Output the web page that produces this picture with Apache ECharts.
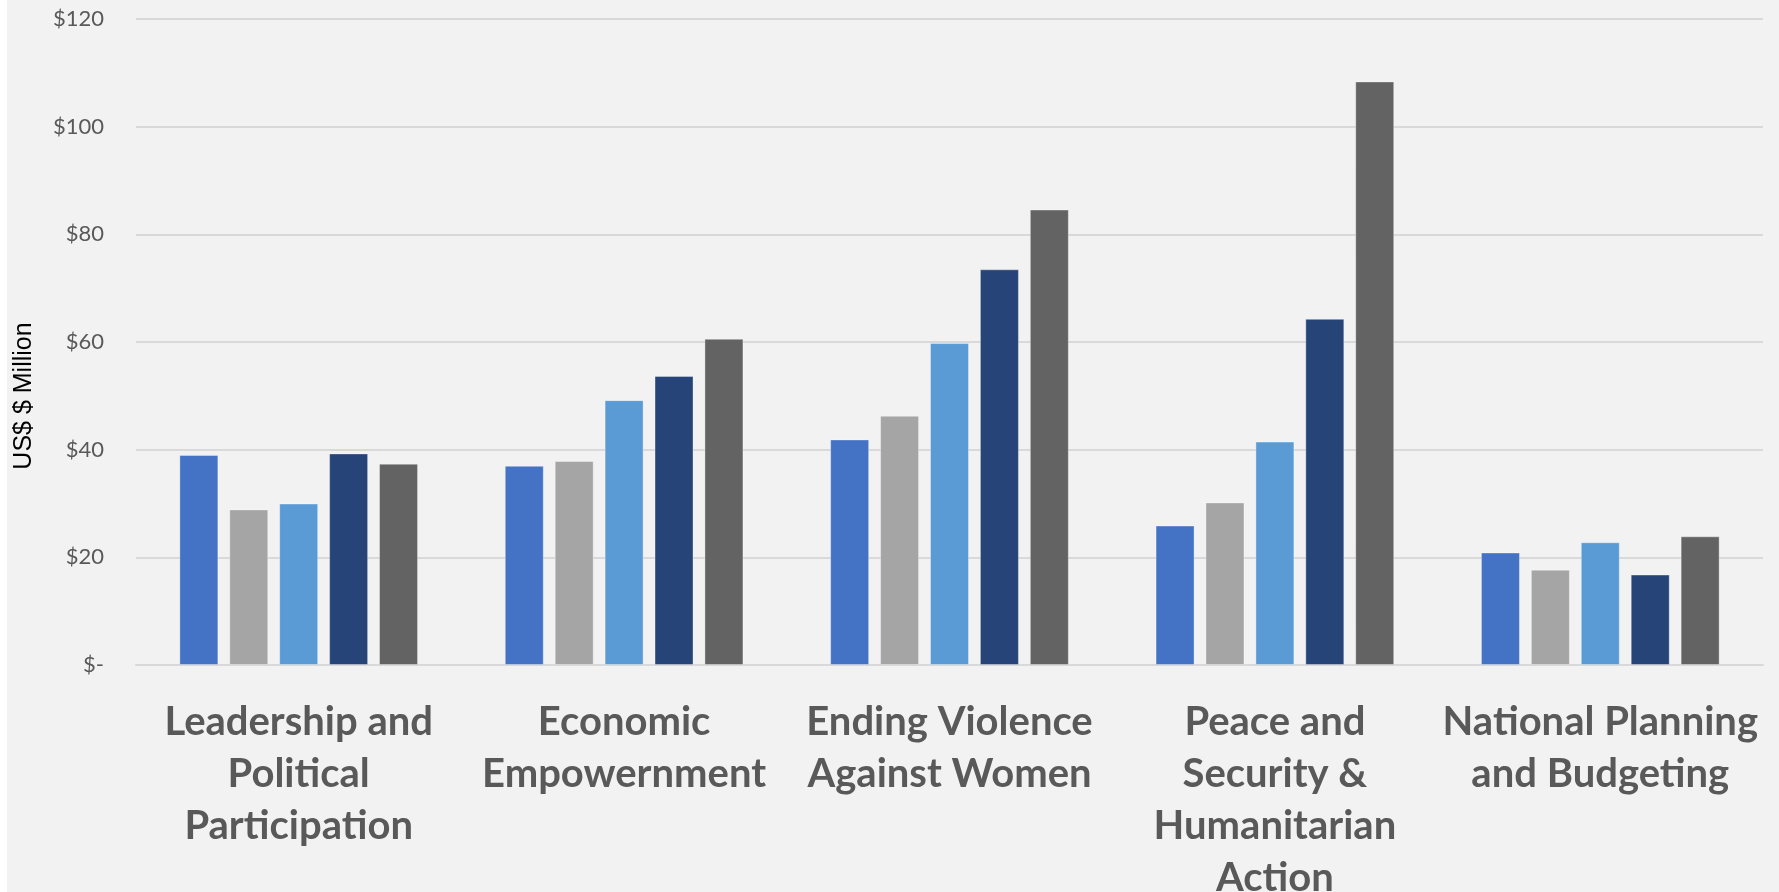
<!DOCTYPE html>
<html>
<head>
<meta charset="utf-8">
<script src="https://cdn.jsdelivr.net/npm/echarts@6/dist/echarts.min.js"></script>
<style>
  html, body { margin: 0; padding: 0; background: #ffffff; }
  #chart { position: absolute; left: 7px; top: 0; width: 1772px; height: 892px; background: #f2f2f2; }
</style>
</head>
<body>
<div id="chart"></div>
<script>
const chart = echarts.init(document.getElementById("chart"));

// ==========================
// DATA
// ==========================

const categories = [
  "Leadership and\nPolitical\nParticipation",
  "Economic\nEmpowernment",
  "Ending Violence\nAgainst Women",
  "Peace and\nSecurity &\nHumanitarian\nAction",
  "National Planning\nand Budgeting"
];

const seriesNames = ["2016", "2017", "2018", "2019", "2020"];
const seriesColors = ["#4472c4", "#a5a5a5", "#5b9bd5", "#264478", "#636363"];

const values2016 = [39.0, 37.0, 41.9, 25.9, 20.9];
const values2017 = [28.9, 37.9, 46.3, 30.2, 17.7];
const values2018 = [30.0, 49.2, 59.8, 41.5, 22.8];
const values2019 = [39.3, 53.7, 73.5, 64.3, 16.8];
const values2020 = [37.4, 60.6, 84.6, 108.4, 23.9];

const allValues = [values2016, values2017, values2018, values2019, values2020];

const yTicks = { min: 0, max: 120, interval: 20 };

// ==========================
// CHART
// ==========================

chart.setOption({
  backgroundColor: "#f2f2f2",
  animation: false,
  grid: { left: 129, right: 16, top: 19, bottom: 227, outerBoundsMode: "none", containLabel: false },
  xAxis: {
    type: "category",
    data: categories,
    axisLine: { lineStyle: { color: "#d9d9d9", width: 2 } },
    axisTick: { show: false },
    axisLabel: {
      interval: 0,
      margin: 31,
      color: "#595959",
      fontFamily: "Lato",
      fontWeight: "bold",
      fontSize: 40,
      lineHeight: 52
    }
  },
  yAxis: {
    type: "value",
    min: yTicks.min,
    max: yTicks.max,
    interval: yTicks.interval,
    axisLine: { show: false },
    axisTick: { show: false },
    splitLine: { lineStyle: { color: "#d9d9d9", width: 2 } },
    axisLabel: {
      margin: 32,
      color: "#595959",
      fontFamily: "Lato",
      fontSize: 22,
      formatter: (v) => (v === 0 ? "$-" : "$" + v)
    }
  },
  graphic: [
    {
      type: "text",
      x: 17,
      y: 396,
      rotation: Math.PI / 2,
      style: {
        text: "US$ $ Million",
        fill: "#000000",
        font: "25px 'Liberation Sans', sans-serif",
        textAlign: "center",
        textVerticalAlign: "middle"
      }
    }
  ],
  series: seriesNames.map((name, i) => ({
    name: name,
    type: "bar",
    data: allValues[i],
    barWidth: 39,
    barGap: "28%",
    itemStyle: {
      color: seriesColors[i],
      borderColor: "rgba(255,255,255,0.35)",
      borderWidth: 1
    }
  }))
});
</script>
</body>
</html>
